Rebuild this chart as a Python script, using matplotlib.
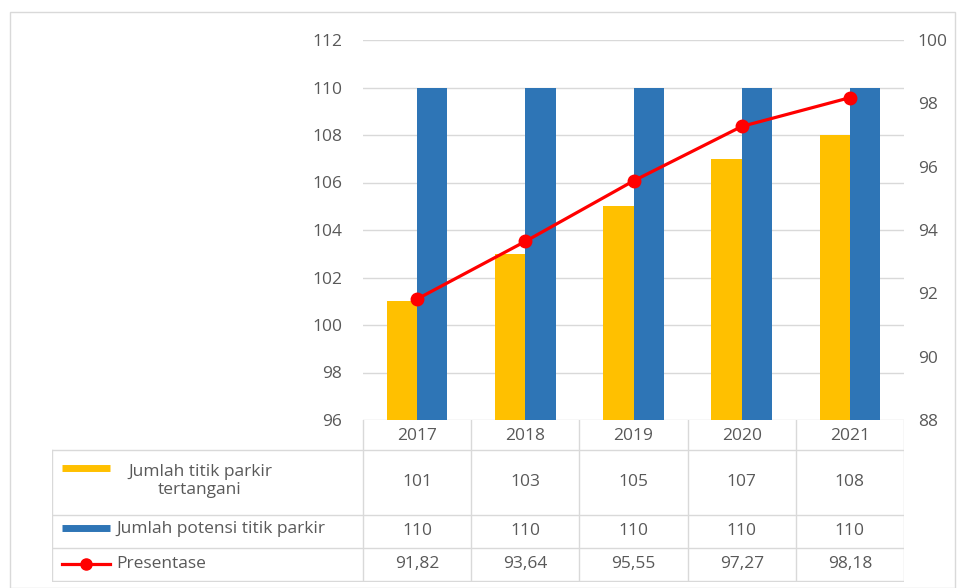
import matplotlib.pyplot as plt
import numpy as np

# data
years = ['2017', '2018', '2019', '2020', '2021']
tertangani = [101, 103, 105, 107, 108]
potensi = [110, 110, 110, 110, 110]
presentase = [91.82, 93.64, 95.55, 97.27, 98.18]
presentase_lbl = ['91,82', '93,64', '95,55', '97,27', '98,18']

row_names = ['Jumlah titik parkir\ntertangani', 'Jumlah potensi titik parkir', 'Presentase']

yellow = '#FFC000'
blue = '#2E75B6'
red = '#FF0000'
grey_txt = '#595959'
grid_c = '#D9D9D9'

plt.rcParams['font.family'] = ['Open Sans', 'DejaVu Sans']

W, H = 965, 588
fig = plt.figure(figsize=(W / 100, H / 100), dpi=100)

# outer chart frame
fig.add_artist(plt.Rectangle((10 / W, 0), 945 / W, 1 - 12 / H, transform=fig.transFigure,
                             fill=False, edgecolor='#D9D9D9', lw=1))

# main plot area (pixel box converted to figure fraction)
x0, x1, ytop, ybot = 363, 904, 40, 420
ax = fig.add_axes([x0 / W, 1 - ybot / H, (x1 - x0) / W, (ybot - ytop) / H])
x = np.arange(len(years))
bw = 0.28
ax.bar(x - bw / 2, tertangani, bw, color=yellow, zorder=2)
ax.bar(x + bw / 2, potensi, bw, color=blue, zorder=2)
ax.set_xlim(-0.5, len(years) - 0.5)
ax.set_ylim(96, 112)
ax.set_yticks(range(96, 113, 2))
ax.yaxis.grid(True, color=grid_c, lw=1, zorder=0)
ax.set_xticks([])
for s in ax.spines.values():
    s.set_visible(False)
ax.tick_params(axis='y', length=0, labelsize=12.5, labelcolor=grey_txt, pad=15)

ax2 = ax.twinx()
ax2.plot(x, presentase, color=red, lw=2.3, marker='o', markersize=9, zorder=3)
ax2.set_ylim(88, 100)
ax2.set_yticks(range(88, 101, 2))
for s in ax2.spines.values():
    s.set_visible(False)
ax2.tick_params(axis='y', length=0, labelsize=12.5, labelcolor=grey_txt, pad=10)

# data table below the plot
tl = 52
tb = 582
tab = fig.add_axes([tl / W, 1 - tb / H, (x1 - tl) / W, (tb - ybot) / H])
left = -0.5 - (x0 - tl) / ((x1 - x0) / len(years))
tab.set_xlim(left, len(years) - 0.5)
tab.set_ylim(tb, ybot)
tab.axis('off')

line_kw = dict(color=grid_c, lw=1)
rows_y = [450, 515, 548, 581]
for yy in rows_y:
    tab.plot([left, len(years) - 0.5], [yy, yy], **line_kw)
tab.plot([left, left], [450, 581], **line_kw)
for i in range(len(years) + 1):
    tab.plot([i - 0.5, i - 0.5], [ybot, 581], **line_kw)

fs = 12.5
for i, yr in enumerate(years):
    tab.text(i, 436, yr, ha='center', va='center', fontsize=fs, color=grey_txt)
    tab.text(i, 482, str(tertangani[i]), ha='center', va='center', fontsize=fs, color=grey_txt)
    tab.text(i, 531, str(potensi[i]), ha='center', va='center', fontsize=fs, color=grey_txt)
    tab.text(i, 564, presentase_lbl[i], ha='center', va='center', fontsize=fs, color=grey_txt)

# legend keys inside the table
px = (x1 - x0) / len(years)
kx0 = left + (62 - tl) / px
kx1 = left + (110 - tl) / px
tab.plot([kx0, kx1], [468, 468], color=yellow, lw=5, solid_capstyle='butt')
tab.plot([kx0, kx1], [528, 528], color=blue, lw=5, solid_capstyle='butt')
tab.plot([kx0, kx1], [564, 564], color=red, lw=2.3)
tab.plot([(kx0 + kx1) / 2], [564], color=red, marker='o', markersize=8)

tab.text(left + (200 - tl) / px, 481, row_names[0], ha='center', va='center',
         fontsize=fs, color=grey_txt, linespacing=1.2)
tab.text(left + (116 - tl) / px, 529, row_names[1], ha='left', va='center',
         fontsize=fs, color=grey_txt)
tab.text(left + (116 - tl) / px, 564, row_names[2], ha='left', va='center',
         fontsize=fs, color=grey_txt)

fig.savefig('out.png', dpi=100)
